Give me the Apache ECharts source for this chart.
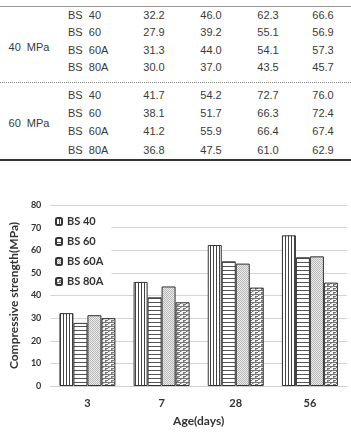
<!DOCTYPE html>
<html>
<head>
<meta charset="utf-8">
<script src="https://cdn.jsdelivr.net/npm/echarts@6/dist/echarts.min.js"></script>
<style>
body { margin: 0; background: #fff; }
#wrap { position: relative; width: 351px; height: 432px; overflow: hidden; }
#tbl { position: absolute; left: 0; top: 0; width: 351px; height: 170px;
  font-family: "Liberation Sans", Arial, sans-serif; font-size: 11px; color: #3a3a3a; }
#tbl .c { position: absolute; white-space: nowrap; line-height: 14px; }
#tbl .line { position: absolute; left: 0; width: 351px; }
#chart { position: absolute; left: 0; top: 170px; width: 351px; height: 262px; }
</style>
</head>
<body>
<div id="wrap">
  <div id="tbl"></div>
  <div id="chart"></div>
</div>
<script>
// data (chart uses the 40 MPa group)
var ages = ['3', '7', '28', '56'];
var mixes = ['BS 40', 'BS 60', 'BS 60A', 'BS 80A'];
var groups = ['40  MPa', '60  MPa'];
var mpa40 = [
  [32.2, 46.0, 62.3, 66.6],
  [27.9, 39.2, 55.1, 56.9],
  [31.3, 44.0, 54.1, 57.3],
  [30.0, 37.0, 43.5, 45.7]
];
var mpa60 = [
  [41.7, 54.2, 72.7, 76.0],
  [38.1, 51.7, 66.3, 72.4],
  [41.2, 55.9, 66.4, 67.4],
  [36.8, 47.5, 61.0, 62.9]
];

// ---- table ----
var tbl = document.getElementById('tbl');
function addText(txt, x, y, align) {
  var d = document.createElement('div');
  d.className = 'c';
  d.textContent = txt;
  d.style.top = (y - 7) + 'px';
  if (align === 'center') {
    d.style.left = (x - 40) + 'px';
    d.style.width = '80px';
    d.style.textAlign = 'center';
  } else {
    d.style.left = x + 'px';
  }
  tbl.appendChild(d);
}
function addLine(y, css) {
  var d = document.createElement('div');
  d.className = 'line';
  d.style.top = y + 'px';
  d.style.borderTop = css;
  tbl.appendChild(d);
}
addLine(6, '1px solid #9a9a9a');
addLine(82, '1px dotted #8a8a8a');
addLine(159, '2px solid #333');

var rowY = [[15, 32, 50, 67], [95, 113, 131, 150]];
var groupY = [47, 123];
var colX = [154, 211, 268, 323];
[mpa40, mpa60].forEach(function (g, gi) {
  addText(groups[gi].replace('  ', '\u00a0\u00a0'), 29, groupY[gi], 'center');
  g.forEach(function (row, ri) {
    addText(mixes[ri].replace(' ', '\u00a0\u00a0'), 68, rowY[gi][ri]);
    row.forEach(function (v, ci) {
      addText(v.toFixed(1), colX[ci], rowY[gi][ri], 'center');
    });
  });
});

// ---- bar patterns ----
function makePattern(kind) {
  var c = document.createElement('canvas');
  var ctx = c.getContext('2d');
  if (kind === 'vert') {
    c.width = 3; c.height = 3;
    ctx.fillStyle = '#fff'; ctx.fillRect(0, 0, 3, 3);
    ctx.fillStyle = '#444'; ctx.fillRect(0, 0, 1, 3);
  } else if (kind === 'horiz') {
    c.width = 4; c.height = 4;
    ctx.fillStyle = '#fff'; ctx.fillRect(0, 0, 4, 4);
    ctx.fillStyle = '#555'; ctx.fillRect(0, 0, 4, 1);
  } else if (kind === 'dots') {
    c.width = 2; c.height = 2;
    ctx.fillStyle = '#ececec'; ctx.fillRect(0, 0, 2, 2);
    ctx.fillStyle = '#b8b8b8'; ctx.fillRect(0, 0, 1, 1); ctx.fillRect(1, 1, 1, 1);
  } else {
    c.width = 6; c.height = 4;
    ctx.fillStyle = '#f4f4f4'; ctx.fillRect(0, 0, 6, 4);
    ctx.fillStyle = '#777';
    ctx.fillRect(0, 0, 6, 1);
    ctx.fillRect(0, 0, 1, 2);
    ctx.fillRect(3, 2, 6, 1);
    ctx.fillRect(3, 2, 1, 2);
    ctx.fillStyle = '#bbb';
    ctx.fillRect(1, 1, 1, 1); ctx.fillRect(4, 3, 1, 1);
  }
  return { image: c, repeat: 'repeat' };
}
var patterns = [makePattern('vert'), makePattern('horiz'), makePattern('dots'), makePattern('brick')];

// ---- chart ----
var myChart = echarts.init(document.getElementById('chart'));
var boldFont = 'Lato, "Open Sans", sans-serif';
var option = {
  animation: false,
  grid: { left: 43, right: 4, top: 35, bottom: 32 },
  legend: {
    orient: 'vertical',
    left: 43,
    top: 39,
    padding: [6, 8, 6, 12],
    backgroundColor: '#fff',
    itemWidth: 6,
    itemHeight: 7,
    itemGap: 7,
    textStyle: { fontFamily: boldFont, fontWeight: 'bold', fontSize: 11, color: '#333', lineHeight: 13 },
    data: mixes
  },
  xAxis: {
    type: 'category',
    data: ages,
    name: 'Age(days)',
    nameLocation: 'middle',
    nameGap: 29,
    nameTextStyle: { fontFamily: boldFont, fontWeight: 'bold', fontSize: 12, color: '#333' },
    axisLine: { lineStyle: { color: '#d0d0d0' } },
    axisTick: { show: false },
    axisLabel: { margin: 12, fontFamily: boldFont, fontWeight: 'bold', fontSize: 11, color: '#333' }
  },
  yAxis: {
    type: 'value',
    min: 0,
    max: 80,
    interval: 10,
    name: 'Compressive strength(MPa)',
    nameLocation: 'middle',
    nameGap: 24,
    nameTextStyle: { fontFamily: boldFont, fontWeight: 'bold', fontSize: 12, color: '#333' },
    axisLine: { show: false },
    axisTick: { show: false },
    axisLabel: { margin: 9, fontFamily: boldFont, fontWeight: 'bold', fontSize: 9, color: '#333' },
    splitLine: { lineStyle: { color: '#d4d4d4' } }
  },
  series: mixes.map(function (m, i) {
    return {
      name: m,
      type: 'bar',
      barWidth: 14,
      barGap: '0%',
      itemStyle: { color: patterns[i], borderColor: '#333', borderWidth: 1 },
      data: mpa40[i]
    };
  })
};
myChart.setOption(option);
</script>
</body>
</html>
